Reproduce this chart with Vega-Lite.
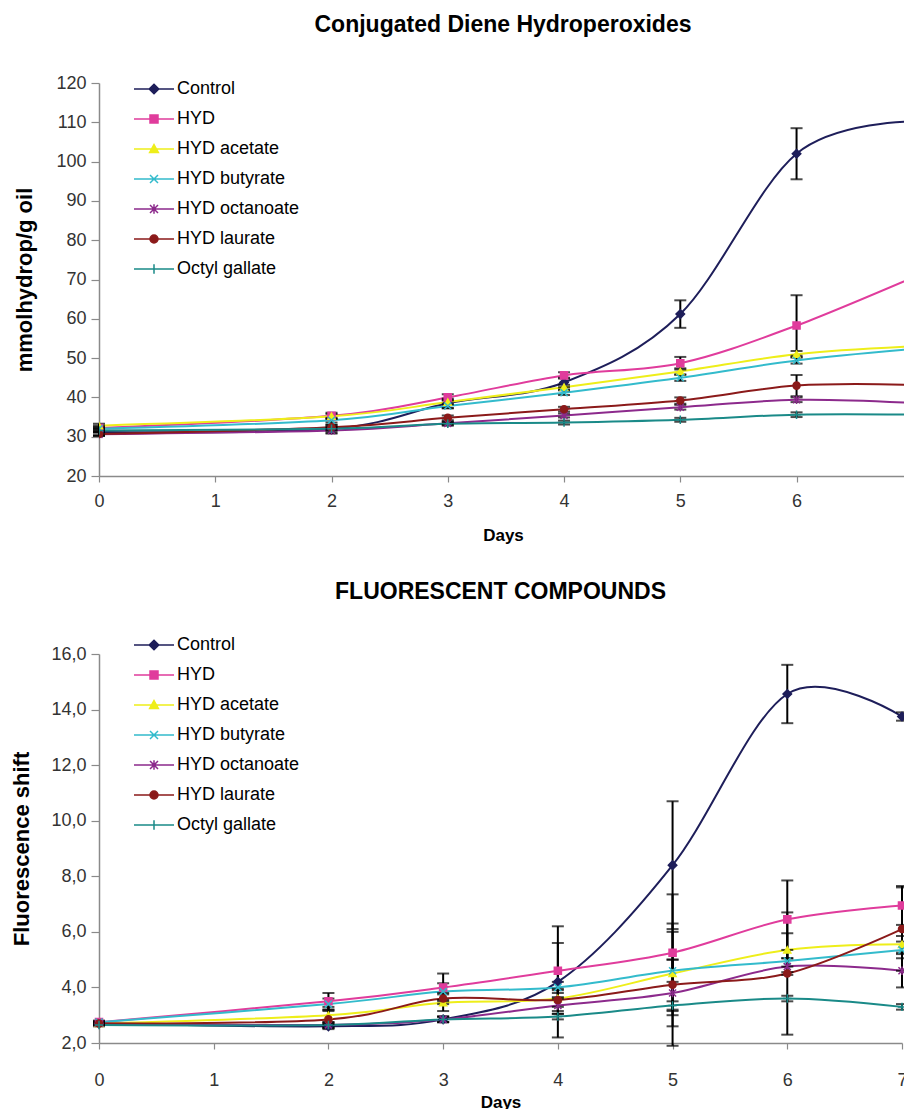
{
  "$schema": "https://vega.github.io/schema/vega-lite/v6.json",
  "padding": {"left": 10, "top": 14, "right": 0, "bottom": 0},
  "autosize": {"type": "pad"},
  "background": "white",
  "spacing": 38,
  "config": {
    "font": "Liberation Sans",
    "view": {"stroke": null},
    "axis": {"grid": false, "domainColor": "#8a8a8a", "tickColor": "#8a8a8a", "labelColor": "#333333", "labelFont": "Liberation Sans", "labelFontSize": 18, "labelFlush": false, "titleFont": "Liberation Sans", "titleFontWeight": "bold", "titleColor": "black", "domainWidth": 1.5, "tickWidth": 1.2},
    "title": {"font": "Liberation Sans", "fontSize": 23, "fontWeight": "bold", "color": "black", "anchor": "middle"},
    "legend": {"labelFont": "Liberation Sans", "labelFontSize": 18, "labelColor": "black", "padding": 0}
  },
  "resolve": {"scale": {"color": "independent", "fill": "independent", "stroke": "independent", "shape": "independent"}},
  "datasets": {
    "cdh": [
      {"day": 0, "series": "Control", "val": 31.2, "err": 0.8},
      {"day": 2, "series": "Control", "val": 32.0, "err": 1.0},
      {"day": 3, "series": "Control", "val": 38.5, "err": 1.2},
      {"day": 4, "series": "Control", "val": 43.8, "err": 1.2},
      {"day": 5, "series": "Control", "val": 61.2, "err": 3.5},
      {"day": 6, "series": "Control", "val": 102.0, "err": 6.5},
      {"day": 7, "series": "Control", "val": 110.2, "err": 0},
      {"day": 0, "series": "HYD", "val": 32.2, "err": 0.6},
      {"day": 2, "series": "HYD", "val": 35.3, "err": 0.8},
      {"day": 3, "series": "HYD", "val": 40.0, "err": 0.8},
      {"day": 4, "series": "HYD", "val": 45.6, "err": 0.8},
      {"day": 5, "series": "HYD", "val": 48.7, "err": 1.6},
      {"day": 6, "series": "HYD", "val": 58.3, "err": 7.7},
      {"day": 7, "series": "HYD", "val": 70.5, "err": 0},
      {"day": 0, "series": "HYD acetate", "val": 32.8, "err": 0.5},
      {"day": 2, "series": "HYD acetate", "val": 35.2, "err": 0.6},
      {"day": 3, "series": "HYD acetate", "val": 38.8, "err": 0.6},
      {"day": 4, "series": "HYD acetate", "val": 42.6, "err": 0.6},
      {"day": 5, "series": "HYD acetate", "val": 46.6, "err": 0.8},
      {"day": 6, "series": "HYD acetate", "val": 51.0, "err": 0.8},
      {"day": 7, "series": "HYD acetate", "val": 53.0, "err": 0},
      {"day": 0, "series": "HYD butyrate", "val": 32.0, "err": 0.5},
      {"day": 2, "series": "HYD butyrate", "val": 34.2, "err": 0.6},
      {"day": 3, "series": "HYD butyrate", "val": 37.8, "err": 0.6},
      {"day": 4, "series": "HYD butyrate", "val": 41.2, "err": 0.6},
      {"day": 5, "series": "HYD butyrate", "val": 45.0, "err": 0.8},
      {"day": 6, "series": "HYD butyrate", "val": 49.4, "err": 0.8},
      {"day": 7, "series": "HYD butyrate", "val": 52.3, "err": 0},
      {"day": 0, "series": "HYD octanoate", "val": 30.6, "err": 0.4},
      {"day": 2, "series": "HYD octanoate", "val": 31.6, "err": 0.8},
      {"day": 3, "series": "HYD octanoate", "val": 33.4, "err": 0.4},
      {"day": 4, "series": "HYD octanoate", "val": 35.4, "err": 0.5},
      {"day": 5, "series": "HYD octanoate", "val": 37.5, "err": 0.6},
      {"day": 6, "series": "HYD octanoate", "val": 39.4, "err": 0.6},
      {"day": 7, "series": "HYD octanoate", "val": 38.6, "err": 0},
      {"day": 0, "series": "HYD laurate", "val": 30.7, "err": 0.5},
      {"day": 2, "series": "HYD laurate", "val": 32.4, "err": 0.6},
      {"day": 3, "series": "HYD laurate", "val": 34.8, "err": 0.6},
      {"day": 4, "series": "HYD laurate", "val": 37.0, "err": 0.6},
      {"day": 5, "series": "HYD laurate", "val": 39.2, "err": 0.8},
      {"day": 6, "series": "HYD laurate", "val": 43.0, "err": 2.7},
      {"day": 7, "series": "HYD laurate", "val": 43.2, "err": 0},
      {"day": 0, "series": "Octyl gallate", "val": 31.6, "err": 0.4},
      {"day": 2, "series": "Octyl gallate", "val": 32.0, "err": 0.5},
      {"day": 3, "series": "Octyl gallate", "val": 33.3, "err": 0.5},
      {"day": 4, "series": "Octyl gallate", "val": 33.6, "err": 0.5},
      {"day": 5, "series": "Octyl gallate", "val": 34.3, "err": 0.5},
      {"day": 6, "series": "Octyl gallate", "val": 35.6, "err": 0.6},
      {"day": 7, "series": "Octyl gallate", "val": 35.6, "err": 0}
    ],
    "fl": [
      {"day": 0, "series": "Control", "val": 2.7, "err": 0.05},
      {"day": 2, "series": "Control", "val": 2.6, "err": 0.1},
      {"day": 3, "series": "Control", "val": 2.85, "err": 0.1},
      {"day": 4, "series": "Control", "val": 4.2, "err": 2.0},
      {"day": 5, "series": "Control", "val": 8.4, "err": 2.3},
      {"day": 6, "series": "Control", "val": 14.56, "err": 1.05},
      {"day": 7, "series": "Control", "val": 13.75, "err": 0.15},
      {"day": 0, "series": "HYD", "val": 2.75, "err": 0.05},
      {"day": 2, "series": "HYD", "val": 3.5, "err": 0.3},
      {"day": 3, "series": "HYD", "val": 4.0, "err": 0.5},
      {"day": 4, "series": "HYD", "val": 4.6, "err": 1.0},
      {"day": 5, "series": "HYD", "val": 5.25, "err": 2.1},
      {"day": 6, "series": "HYD", "val": 6.45, "err": 1.4},
      {"day": 7, "series": "HYD", "val": 6.95, "err": 0.7},
      {"day": 0, "series": "HYD acetate", "val": 2.7, "err": 0.05},
      {"day": 2, "series": "HYD acetate", "val": 3.0, "err": 0.3},
      {"day": 3, "series": "HYD acetate", "val": 3.45, "err": 0.3},
      {"day": 4, "series": "HYD acetate", "val": 3.6, "err": 0.3},
      {"day": 5, "series": "HYD acetate", "val": 4.5, "err": 1.5},
      {"day": 6, "series": "HYD acetate", "val": 5.35, "err": 0.6},
      {"day": 7, "series": "HYD acetate", "val": 5.55, "err": 0.3},
      {"day": 0, "series": "HYD butyrate", "val": 2.75, "err": 0.05},
      {"day": 2, "series": "HYD butyrate", "val": 3.4, "err": 0.2},
      {"day": 3, "series": "HYD butyrate", "val": 3.85, "err": 0.3},
      {"day": 4, "series": "HYD butyrate", "val": 4.0, "err": 0.2},
      {"day": 5, "series": "HYD butyrate", "val": 4.6, "err": 0.4},
      {"day": 6, "series": "HYD butyrate", "val": 4.95, "err": 0.4},
      {"day": 7, "series": "HYD butyrate", "val": 5.35, "err": 0.3},
      {"day": 0, "series": "HYD octanoate", "val": 2.7, "err": 0.05},
      {"day": 2, "series": "HYD octanoate", "val": 2.65, "err": 0.1},
      {"day": 3, "series": "HYD octanoate", "val": 2.85, "err": 0.1},
      {"day": 4, "series": "HYD octanoate", "val": 3.35, "err": 0.3},
      {"day": 5, "series": "HYD octanoate", "val": 3.8, "err": 1.2},
      {"day": 6, "series": "HYD octanoate", "val": 4.75, "err": 0.3},
      {"day": 7, "series": "HYD octanoate", "val": 4.6, "err": 0.6},
      {"day": 0, "series": "HYD laurate", "val": 2.7, "err": 0.05},
      {"day": 2, "series": "HYD laurate", "val": 2.85, "err": 0.3},
      {"day": 3, "series": "HYD laurate", "val": 3.6, "err": 0.2},
      {"day": 4, "series": "HYD laurate", "val": 3.55, "err": 0.4},
      {"day": 5, "series": "HYD laurate", "val": 4.1, "err": 2.2},
      {"day": 6, "series": "HYD laurate", "val": 4.5, "err": 2.2},
      {"day": 7, "series": "HYD laurate", "val": 6.1, "err": 1.5},
      {"day": 0, "series": "Octyl gallate", "val": 2.65, "err": 0.05},
      {"day": 2, "series": "Octyl gallate", "val": 2.65, "err": 0.1},
      {"day": 3, "series": "Octyl gallate", "val": 2.85, "err": 0.1},
      {"day": 4, "series": "Octyl gallate", "val": 2.95, "err": 0.1},
      {"day": 5, "series": "Octyl gallate", "val": 3.35, "err": 0.15},
      {"day": 6, "series": "Octyl gallate", "val": 3.6, "err": 0.1},
      {"day": 7, "series": "Octyl gallate", "val": 3.3, "err": 0.1}
    ]
  },
  "vconcat": [
    {
      "title": {"text": "Conjugated Diene Hydroperoxides", "offset": 37},
      "width": 808,
      "height": 393,
      "data": {"name": "cdh"},
      "resolve": {"scale": {"shape": "independent", "fill": "independent", "stroke": "independent"}, "legend": {"shape": "independent", "fill": "independent", "stroke": "independent"}},
      "encoding": {
        "x": {"field": "day", "type": "quantitative", "scale": {"domain": [0, 6.95], "nice": false, "zero": false},
              "axis": {"values": [0, 1, 2, 3, 4, 5, 6], "format": "d", "title": "Days", "titleFontSize": 17, "tickSize": 6, "labelPadding": 10, "titlePadding": 17}},
        "y": {"field": "val", "type": "quantitative", "scale": {"domain": [20, 120], "nice": false, "zero": false},
              "axis": {"values": [20, 30, 40, 50, 60, 70, 80, 90, 100, 110, 120], "title": "mmolhydrop/g oil", "titleFontSize": 22, "titleX": -63, "tickSize": 8, "labelPadding": 5}}
      },
      "layer": [
        {
          "mark": {"type": "line", "interpolate": "cardinal", "strokeWidth": 2, "clip": true},
          "encoding": {
            "color": {"field": "series", "type": "nominal", "legend": null,
              "scale": {"domain": ["Control", "HYD", "HYD acetate", "HYD butyrate", "HYD octanoate", "HYD laurate", "Octyl gallate"],
                        "range": ["#1e1e5a", "#e03c9c", "#eeee1a", "#33bbcc", "#8c2a8c", "#8b1a1a", "#1a8a88"]}}
          }
        },
        {
          "transform": [{"filter": "datum.err > 0"}],
          "mark": {"type": "errorbar", "color": "black", "thickness": 2, "ticks": {"size": 12, "thickness": 2, "color": "black"}},
          "encoding": {"yError": {"field": "err"}}
        },
        {
          "mark": {"type": "point", "filled": true, "size": 50, "opacity": 1, "strokeWidth": 1.5, "clip": true},
          "encoding": {
            "fill": {"field": "series", "type": "nominal", "legend": null,
              "scale": {"domain": ["Control", "HYD", "HYD acetate", "HYD butyrate", "HYD octanoate", "HYD laurate", "Octyl gallate"],
                        "range": ["#1e1e5a", "#e03c9c", "#eeee1a", "#33bbcc", "#8c2a8c", "#8b1a1a", "#1a8a88"]}},
            "stroke": {"field": "series", "type": "nominal", "legend": null,
              "scale": {"domain": ["Control", "HYD", "HYD acetate", "HYD butyrate", "HYD octanoate", "HYD laurate", "Octyl gallate"],
                        "range": ["#1e1e5a", "#e03c9c", "#eeee1a", "#33bbcc", "#8c2a8c", "#8b1a1a", "#1a8a88"]}},
            "shape": {"field": "series", "type": "nominal", "legend": null,
              "scale": {"domain": ["Control", "HYD", "HYD acetate", "HYD butyrate", "HYD octanoate", "HYD laurate", "Octyl gallate"],
                        "range": ["M0,-1.2L1.2,0L0,1.2L-1.2,0Z", "square", "triangle-up", "M-1,-1L1,1M-1,1L1,-1", "M-1,-1L1,1M-1,1L1,-1M0,-1.2V1.2", "circle", "M0,-1.2V1.2M-1.2,0H1.2"]}}
          }
        },
        {
          "transform": [{"filter": "false"}],
          "mark": {"type": "point", "filled": true, "opacity": 1, "strokeWidth": 1.5},
          "encoding": {
            "fill": {"field": "series", "type": "nominal",
              "scale": {"domain": ["Control", "HYD", "HYD acetate", "HYD butyrate", "HYD octanoate", "HYD laurate", "Octyl gallate"],
                        "range": ["#1e1e5a", "#e03c9c", "#eeee1a", "#33bbcc", "#8c2a8c", "#8b1a1a", "#1a8a88"]},
              "legend": {"title": null, "orient": "none", "legendX": 46, "legendY": -3, "symbolSize": 64, "symbolStrokeWidth": 1.5, "labelOffset": 14, "rowPadding": 12}},
            "stroke": {"field": "series", "type": "nominal",
              "scale": {"domain": ["Control", "HYD", "HYD acetate", "HYD butyrate", "HYD octanoate", "HYD laurate", "Octyl gallate"],
                        "range": ["#1e1e5a", "#e03c9c", "#eeee1a", "#33bbcc", "#8c2a8c", "#8b1a1a", "#1a8a88"]},
              "legend": {"title": null, "orient": "none", "legendX": 46, "legendY": -3, "symbolSize": 64, "symbolStrokeWidth": 1.5, "labelOffset": 14, "rowPadding": 12}},
            "shape": {"field": "series", "type": "nominal",
              "scale": {"domain": ["Control", "HYD", "HYD acetate", "HYD butyrate", "HYD octanoate", "HYD laurate", "Octyl gallate"],
                        "range": ["M-5,0L5,0M0,-1.2L1.2,0L0,1.2L-1.2,0Z", "M-5,0L5,0M-1,-1L1,-1L1,1L-1,1Z", "M-5,0L5,0M0,-1.1L1.1,0.9L-1.1,0.9Z", "M-5,0L5,0M-1,-1L1,1M-1,1L1,-1", "M-5,0L5,0M-1,-1L1,1M-1,1L1,-1M0,-1.2L0,1.2", "M-5,0L5,0M1,0A1,1,0,1,1,-1,0A1,1,0,1,1,1,0Z", "M-5,0L5,0M0,-1.2L0,1.2"]},
              "legend": {"title": null, "orient": "none", "legendX": 46, "legendY": -3, "symbolSize": 64, "symbolStrokeWidth": 1.5, "labelOffset": 14, "rowPadding": 12}}
          }
        }
      ]
    },
    {
      "title": {"text": "FLUORESCENT COMPOUNDS", "offset": 32},
      "width": 803,
      "height": 389,
      "data": {"name": "fl"},
      "resolve": {"scale": {"shape": "independent", "fill": "independent", "stroke": "independent"}, "legend": {"shape": "independent", "fill": "independent", "stroke": "independent"}},
      "encoding": {
        "x": {"field": "day", "type": "quantitative", "scale": {"domain": [0, 7], "nice": false, "zero": false},
              "axis": {"values": [0, 1, 2, 3, 4, 5, 6, 7], "format": "d", "title": "Days", "titleFontSize": 17, "tickSize": 6, "labelPadding": 22, "titlePadding": 5}},
        "y": {"field": "val", "type": "quantitative", "scale": {"domain": [2, 16], "nice": false, "zero": false},
              "axis": {"values": [2, 4, 6, 8, 10, 12, 14, 16], "labelExpr": "replace(format(datum.value, '.1f'), '.', ',')", "title": "Fluorescence shift", "titleFontSize": 22, "titleX": -66, "tickSize": 8, "labelPadding": 5}}
      },
      "layer": [
        {
          "mark": {"type": "line", "interpolate": "cardinal", "strokeWidth": 2},
          "encoding": {
            "color": {"field": "series", "type": "nominal", "legend": null,
              "scale": {"domain": ["Control", "HYD", "HYD acetate", "HYD butyrate", "HYD octanoate", "HYD laurate", "Octyl gallate"],
                        "range": ["#1e1e5a", "#e03c9c", "#eeee1a", "#33bbcc", "#8c2a8c", "#8b1a1a", "#1a8a88"]}}
          }
        },
        {
          "transform": [{"filter": "datum.err > 0"}],
          "mark": {"type": "errorbar", "color": "black", "thickness": 2, "ticks": {"size": 12, "thickness": 2, "color": "black"}},
          "encoding": {"yError": {"field": "err"}}
        },
        {
          "mark": {"type": "point", "filled": true, "size": 50, "opacity": 1, "strokeWidth": 1.5},
          "encoding": {
            "fill": {"field": "series", "type": "nominal", "legend": null,
              "scale": {"domain": ["Control", "HYD", "HYD acetate", "HYD butyrate", "HYD octanoate", "HYD laurate", "Octyl gallate"],
                        "range": ["#1e1e5a", "#e03c9c", "#eeee1a", "#33bbcc", "#8c2a8c", "#8b1a1a", "#1a8a88"]}},
            "stroke": {"field": "series", "type": "nominal", "legend": null,
              "scale": {"domain": ["Control", "HYD", "HYD acetate", "HYD butyrate", "HYD octanoate", "HYD laurate", "Octyl gallate"],
                        "range": ["#1e1e5a", "#e03c9c", "#eeee1a", "#33bbcc", "#8c2a8c", "#8b1a1a", "#1a8a88"]}},
            "shape": {"field": "series", "type": "nominal", "legend": null,
              "scale": {"domain": ["Control", "HYD", "HYD acetate", "HYD butyrate", "HYD octanoate", "HYD laurate", "Octyl gallate"],
                        "range": ["M0,-1.2L1.2,0L0,1.2L-1.2,0Z", "square", "triangle-up", "M-1,-1L1,1M-1,1L1,-1", "M-1,-1L1,1M-1,1L1,-1M0,-1.2V1.2", "circle", "M0,-1.2V1.2M-1.2,0H1.2"]}}
          }
        },
        {
          "transform": [{"filter": "false"}],
          "mark": {"type": "point", "filled": true, "opacity": 1, "strokeWidth": 1.5},
          "encoding": {
            "fill": {"field": "series", "type": "nominal",
              "scale": {"domain": ["Control", "HYD", "HYD acetate", "HYD butyrate", "HYD octanoate", "HYD laurate", "Octyl gallate"],
                        "range": ["#1e1e5a", "#e03c9c", "#eeee1a", "#33bbcc", "#8c2a8c", "#8b1a1a", "#1a8a88"]},
              "legend": {"title": null, "orient": "none", "legendX": 46, "legendY": -18, "symbolSize": 64, "symbolStrokeWidth": 1.5, "labelOffset": 14, "rowPadding": 12}},
            "stroke": {"field": "series", "type": "nominal",
              "scale": {"domain": ["Control", "HYD", "HYD acetate", "HYD butyrate", "HYD octanoate", "HYD laurate", "Octyl gallate"],
                        "range": ["#1e1e5a", "#e03c9c", "#eeee1a", "#33bbcc", "#8c2a8c", "#8b1a1a", "#1a8a88"]},
              "legend": {"title": null, "orient": "none", "legendX": 46, "legendY": -18, "symbolSize": 64, "symbolStrokeWidth": 1.5, "labelOffset": 14, "rowPadding": 12}},
            "shape": {"field": "series", "type": "nominal",
              "scale": {"domain": ["Control", "HYD", "HYD acetate", "HYD butyrate", "HYD octanoate", "HYD laurate", "Octyl gallate"],
                        "range": ["M-5,0L5,0M0,-1.2L1.2,0L0,1.2L-1.2,0Z", "M-5,0L5,0M-1,-1L1,-1L1,1L-1,1Z", "M-5,0L5,0M0,-1.1L1.1,0.9L-1.1,0.9Z", "M-5,0L5,0M-1,-1L1,1M-1,1L1,-1", "M-5,0L5,0M-1,-1L1,1M-1,1L1,-1M0,-1.2L0,1.2", "M-5,0L5,0M1,0A1,1,0,1,1,-1,0A1,1,0,1,1,1,0Z", "M-5,0L5,0M0,-1.2L0,1.2"]},
              "legend": {"title": null, "orient": "none", "legendX": 46, "legendY": -18, "symbolSize": 64, "symbolStrokeWidth": 1.5, "labelOffset": 14, "rowPadding": 12}}
          }
        }
      ]
    }
  ]
}
